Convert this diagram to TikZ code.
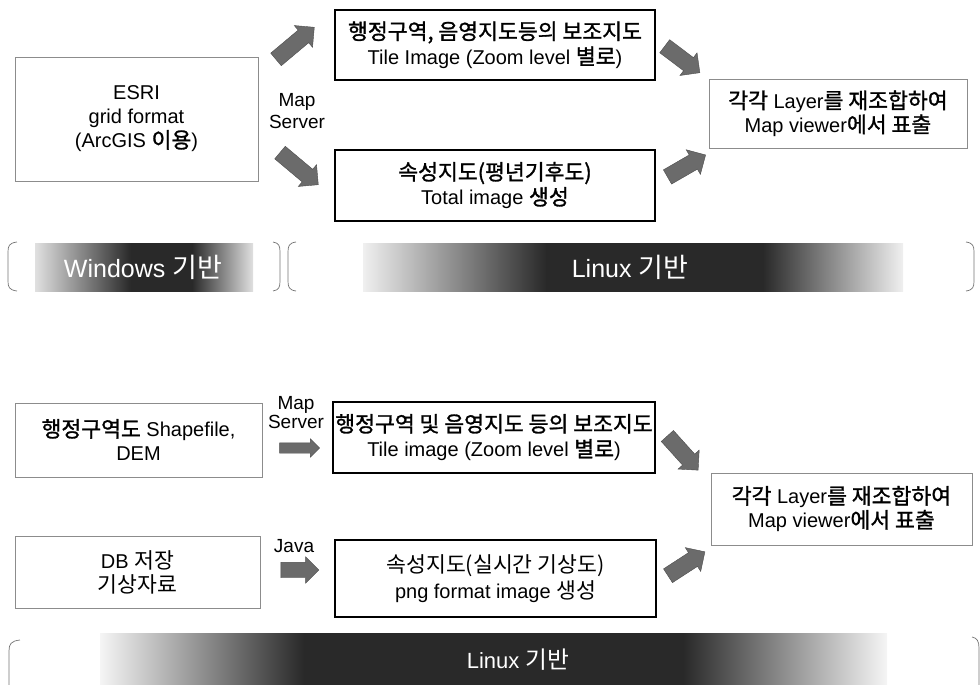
\documentclass[tikz,border=0pt]{standalone}
\usepackage{fontspec}
\setmainfont{Liberation Sans}
\newfontfamily\krfont{Noto Sans CJK KR}[Scale=1.08]
\newfontfamily\krboldfont{Noto Sans CJK KR}[Scale=1.08, FakeBold=1.3]
\newcommand\kr[1]{{\krboldfont #1}}
\newcommand\krl[1]{{\krfont #1}}
\usetikzlibrary{shapes.arrows}

% horizontal grey bands: light ends, dark middle (25bp..75bp span the band)
\pgfdeclarehorizontalshading{winband}{100bp}{color(0bp)=(black!12); color(25bp)=(black!12);
  color(47bp)=(black!84); color(61bp)=(black!84); color(75bp)=(black!12); color(100bp)=(black!12)}
\pgfdeclarehorizontalshading{linbandA}{100bp}{color(0bp)=(black!6); color(25bp)=(black!6);
  color(42bp)=(black!84); color(62bp)=(black!84); color(75bp)=(black!6); color(100bp)=(black!6)}
\pgfdeclarehorizontalshading{linbandB}{100bp}{color(0bp)=(black!4); color(25bp)=(black!4);
  color(38bp)=(black!84); color(62bp)=(black!84); color(75bp)=(black!4); color(100bp)=(black!4)}

\tikzset{
  solidbox/.style={draw=black, line width=1.2pt, fill=white, inner sep=0pt,
    align=center, font=\fontsize{20}{25}\selectfont},
  greybox/.style={draw=black!45, line width=0.7pt, fill=white, inner sep=0pt,
    align=center, font=\fontsize{20}{24}\selectfont},
  blockarrow/.style={single arrow, draw=black!70, fill=black!58, line width=0.4pt,
    inner sep=8pt, single arrow head extend=6pt, minimum height=50pt},
  smallarrow/.style={blockarrow, inner sep=5pt, single arrow head extend=4pt,
    minimum height=40pt},
  lbl/.style={align=center, inner sep=0pt, font=\fontsize{19}{22}\selectfont},
  bandtext/.style={text=white, inner sep=0pt, font=\fontsize{25}{25}\selectfont},
  paren/.style={draw=black!55, line width=0.7pt}
}

\begin{document}
\begin{tikzpicture}[x=1pt,y=-1pt]
\useasboundingbox (0,0) rectangle (980,685);
\clip (0,0) rectangle (980,685);

% ---------- upper workflow ----------
\node[greybox, minimum width=243pt, minimum height=124pt] (esri) at (136.5,119)
  {ESRI\\grid format\\(ArcGIS \kr{이용})};
\node[solidbox, minimum width=320pt, minimum height=70pt] (tileA) at (495,45)
  {\kr{행정구역, 음영지도등의 보조지도}\\Tile Image (Zoom level \kr{별로})};
\node[solidbox, minimum width=320pt, minimum height=71pt] (totalA) at (495,185.5)
  {\kr{속성지도(평년기후도)}\\Total image \kr{생성}};
\node[greybox, minimum width=258pt, minimum height=69pt] (viewA) at (838,113.5)
  {\kr{각각} Layer\kr{를 재조합하여}\\Map viewer\kr{에서 표출}};
\node[lbl] (msA) at (297,111) {Map\\Server};

\node[blockarrow, rotate=40]  (arA1) at (292,46)  {};
\node[blockarrow, rotate=-40] (arA2) at (296,166) {};
\node[blockarrow, rotate=-37, minimum height=44pt] (arA3) at (679,57)  {};
\node[blockarrow, rotate=30,  minimum height=44pt] (arA4) at (683,168) {};

% platform bands (upper)
\shade[shading=winband] (35,243) rectangle (253,291);
\node[bandtext] (winA) at (143,267) {Windows \krl{기반}};
\shade[shading=linbandA] (363,243) rectangle (903,291);
\node[bandtext] (linA) at (630,267) {Linux \krl{기반}};

\draw[paren] (17,242) .. controls (9,243) and (8,246) .. (8,252) -- (8,281)
  .. controls (8,287) and (9,290) .. (17,291);
\draw[paren] (273,242) .. controls (279,243) and (280,246) .. (280,252) -- (280,281)
  .. controls (280,287) and (279,290) .. (273,291);
\draw[paren] (296,242) .. controls (289,243) and (288,246) .. (288,252) -- (288,281)
  .. controls (288,287) and (289,290) .. (296,291);
\draw[paren] (966,242) .. controls (973,243) and (974,246) .. (974,252) -- (974,281)
  .. controls (974,287) and (973,290) .. (966,291);

% ---------- lower workflow ----------
\node[greybox, minimum width=247pt, minimum height=74pt] (shp) at (138.5,440)
  {\kr{행정구역도} Shapefile,\\DEM};
\node[lbl, font=\fontsize{19}{19}\selectfont] (msB) at (296,413) {Map\\Server};
\node[solidbox, minimum width=322pt, minimum height=71pt] (tileB) at (494,437.5)
  {\kr{행정구역 및 음영지도 등의 보조지도}\\Tile image (Zoom level \kr{별로})};
\node[greybox, minimum width=261pt, minimum height=72pt] (viewB) at (841.5,509)
  {\kr{각각} Layer\kr{를 재조합하여}\\Map viewer\kr{에서 표출}};
\node[greybox, minimum width=245pt, minimum height=72pt,
  font=\fontsize{20}{24}\selectfont] (db) at (137.5,572)
  {DB \krl{저장}\\\krl{기상자료}};
\node[lbl] (java) at (294,546) {Java};
\node[solidbox, minimum width=321pt, minimum height=77pt,
  font=\fontsize{20}{26}\selectfont] (totalB) at (495.5,578.5)
  {\krl{속성지도(실시간 기상도)}\\png format image \krl{생성}};

\node[smallarrow] (arB1) at (297,448) {};
\node[smallarrow, inner sep=7.5pt, single arrow head extend=5.5pt,
  minimum height=38pt] (arB2) at (296,570) {};
\node[blockarrow, rotate=-48, minimum height=46pt] (arB3) at (680,450) {};
\node[blockarrow, rotate=33,  minimum height=44pt] (arB4) at (683,566) {};

% platform band (lower)
\shade[shading=linbandB] (100,633) rectangle (887,692);
\node[bandtext, font=\fontsize{22}{22}\selectfont] (linB) at (518,660) {Linux \krl{기반}};

\draw[paren] (20,640) .. controls (11,641) and (9,644) .. (9,651) -- (9,700);
\draw[paren] (972,637) .. controls (977,638) and (979,641) .. (979,648) -- (979,700);
\end{tikzpicture}
\end{document}
